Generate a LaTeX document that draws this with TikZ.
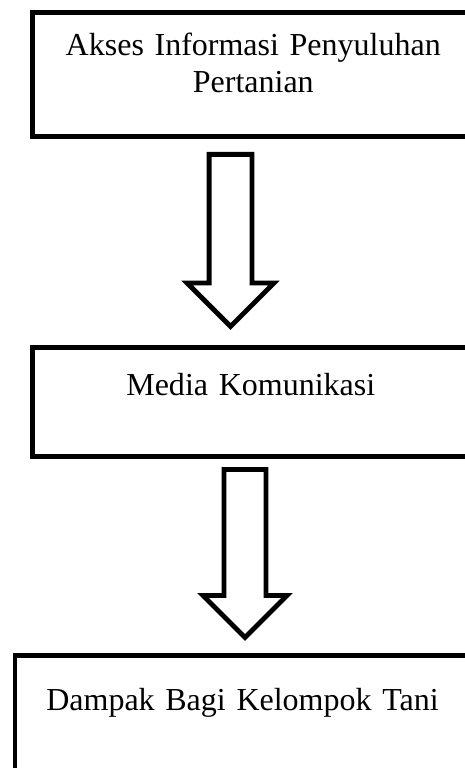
\documentclass[tikz,border=0pt]{standalone}
\usepackage{fontspec}
\setmainfont{Liberation Serif}
\usepackage{tikz}
\usetikzlibrary{shapes.arrows}
\tikzstyle{kotak} = [draw, rectangle, line width=1.7pt, inner sep=0pt, align=center, anchor=north west, font=\fontsize{12}{13.9}\selectfont]
\tikzstyle{panah} = [draw, fill=white, single arrow, single arrow tip angle=90, line width=1.8pt, rotate=-90, anchor=tail]

\begin{document}
\begin{tikzpicture}[x=0.375pt, y=-0.375pt]
\path [use as bounding box, clip] (0,0) rectangle (465,768);
\fill [white] (0,0) rectangle (465,768);

\node (akses informasi) [kotak, text width=165.75pt, text height=16.125pt, text depth=30.375pt] at (30,10) {Akses Informasi Penyuluhan\\ Pertanian};
\node (media komunikasi) [kotak, text width=163.875pt, text height=18pt, text depth=22.875pt] at (30,345) {Media Komunikasi};
\node (dampak kelompok tani) [kotak, text width=170.8pt, text height=20.625pt, text depth=27pt] at (12.5,653) {Dampak Bagi Kelompok Tani};

\node (panah atas) [panah, inner sep=7.125pt, single arrow head extend=8.25pt, minimum height=64.5pt] at (230.5,152) {};
\node (panah bawah) [panah, inner sep=6.94pt, single arrow head extend=7.875pt, minimum height=63pt] at (245,467) {};

\end{tikzpicture}
\end{document}
